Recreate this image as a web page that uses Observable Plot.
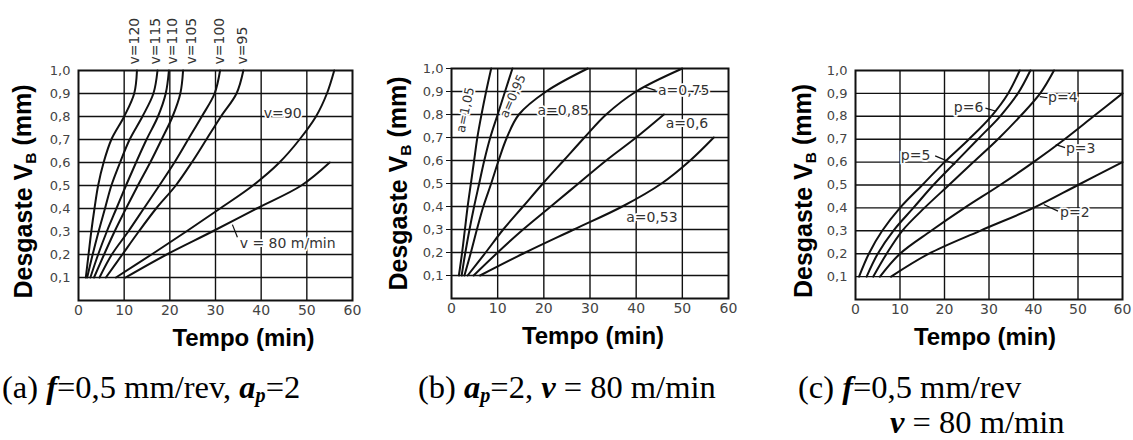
<!DOCTYPE html>
<html><head><meta charset="utf-8">
<script src="https://cdn.jsdelivr.net/npm/d3@7"></script>
<script src="https://cdn.jsdelivr.net/npm/@observablehq/plot@0.6"></script>
<style>
html,body{margin:0;padding:0;background:#fff;}
#wrap{position:relative;width:1133px;height:440px;overflow:hidden;background:#fff;}
.panel{position:absolute;top:0;}
.cap{position:absolute;font-family:"Liberation Serif","Times New Roman",serif;font-size:32.5px;color:#000;white-space:nowrap;line-height:1;}
.cap b{font-style:italic;}
.cap sub{font-size:0.62em;vertical-align:-0.22em;line-height:0;}
</style></head><body><div id="wrap"></div>
<script>
// ---------- shared axes ----------
const wearLevels = [0.1,0.2,0.3,0.4,0.5,0.6,0.7,0.8,0.9,1.0];
const timeTicks = [0,10,20,30,40,50,60];
const wearTicks = [0.1,0.2,0.3,0.4,0.5,0.6,0.7,0.8,0.9,1.0];
const timeGrid = [10,20,30,40,50];
const wearGrid = [0.1,0.2,0.3,0.4,0.5,0.6,0.7,0.8,0.9];
const xTitle = "Tempo (min)";
const yTitle = "Desgaste V_B (mm)";

// ---------- panel (a): cutting speed v (time in min at each wear level) ----------
const speedNames = ["v=120","v=115","v=110","v=105","v=100","v=95","v=90","v=80"];
const tV120 = [1.6,2.2,2.8,3.5,4.3,5.5,7.2,10.0,12.2,12.8];
const tV115 = [1.9,3.1,4.4,5.8,7.2,9.1,11.2,14.0,16.4,17.3];
const tV110 = [2.6,4.3,6.2,8.3,10.4,12.6,14.9,17.4,19.1,19.8];
const tV105 = [3.4,5.6,7.9,10.4,13.0,15.7,18.2,20.6,22.3,22.9];
const tV100 = [4.6,7.3,10.9,14.3,17.7,21.0,24.0,27.0,29.8,31.0];
const tV95  = [6.0,9.6,13.2,17.0,21.3,24.8,28.0,31.2,34.6,36.1];
const tV90  = [8.2,16.0,23.6,31.0,38.2,44.0,48.4,52.0,54.4,56.0];
const tV80  = [10.3,19.3,29.3,39.0,48.8,55.0];
const topLabelsA = ["v=120","v=115","v=110","v=105","v=100","v=95"];
const topLabelTimesA = [12.3,16.8,20.6,24.8,30.9,35.9];
const innerLabelsA = ["v=90","v = 80 m/min"];
const innerLabelTimesA = [44.7,45.8];
const innerLabelWearA = [0.812,0.246];
const leaderA = [[33.7,0.33,34.8,0.275]];

// ---------- panel (b): feed a ----------
const feedNames = ["a=1,05","a=0,95","a=0,85","a=0,75","a=0,6","a=0,53"];
const tA105 = [1.6,2.3,2.9,3.5,4.2,4.9,5.6,6.5,7.5,8.6];
const tA095 = [2.2,3.0,3.9,4.9,6.0,7.1,8.4,10.0,11.6,13.2];
const tA085 = [2.8,4.2,5.5,6.9,8.6,10.2,12.0,14.6,20.5,29.5];
const tA075 = [3.5,7.4,11.2,15.5,19.8,24.3,28.8,33.5,40.0,50.0];
const tA060 = [4.8,10.0,15.5,21.5,27.5,33.5,40.0,46.0];
const tA053 = [6.2,16.0,26.5,37.0,45.5,51.7,56.8];
const labelsB = ["a=1,05","a=0,95","a=0,85","a=0,75","a=0,6","a=0,53"];
const labelTimesB = [3.0,13.3,24.2,50.3,51.0,43.4];
const labelWearB = [0.82,0.88,0.817,0.903,0.76,0.35];
const labelRotB = [-78,-66,0,0,0,0];
const leaderB = [[41.8,0.92,44.2,0.905]];

// ---------- panel (c): depth p ----------
const depthNames = ["p=6","p=5","p=4","p=3","p=2"];
const tP6 = [0.8,3.0,6.0,10.0,15.0,20.0,25.5,30.5,34.3,36.9];
const tP5 = [2.5,5.0,8.5,13.0,17.5,22.5,27.5,32.5,36.5,39.3];
const tP4 = [4.0,7.0,10.5,15.5,21.0,26.5,32.0,37.0,41.5,44.6];
const tP3 = [5.5,10.0,17.0,24.5,32.5,40.0,47.0,53.5,60.0];
const tP2 = [8.0,16.5,28.0,40.0,50.0,60.0];
const labelsC = ["p=6","p=5","p=4","p=3","p=2"];
const labelTimesC = [25.4,13.5,46.6,50.6,49.3];
const labelWearC = [0.84,0.63,0.88,0.66,0.38];
const leaderC = [[29.2,0.836,31.6,0.822],[17.9,0.627,22.4,0.59],[41.4,0.886,43.2,0.881],[45.0,0.676,47.1,0.663],[42.3,0.415,45.5,0.386]];

// ---------- helpers ----------
function rows(names, times) {
  return names.flatMap((n, i) => times[i].map((t, j) => ({series: n, t, w: wearLevels[j]})));
}
const fmt = d => d.toFixed(1).replace(".", ",");
const INK = "#111";

function panel({rows: data, left, width, mLeft, mRight, mTop, mBottom, labels, leaders, yTitleDx, yTitleDy, xTitleDx, yTickSize}) {
  const H = 360;
  const chart = Plot.plot({
    width, height: H,
    marginLeft: mLeft, marginRight: mRight, marginTop: mTop, marginBottom: mBottom,
    style: {background: "transparent", overflow: "visible", fontFamily: "DejaVu Sans", color: "#444"},
    x: {domain: [0, 60]},
    y: {domain: [0, 1]},
    marks: [
      Plot.ruleX(timeGrid, {stroke: INK, strokeWidth: 1.4}),
      Plot.ruleY(wearGrid, {stroke: INK, strokeWidth: 1.4}),
      Plot.frame({stroke: INK, strokeWidth: 2}),
      Plot.axisX({ticks: timeTicks, tickSize: 0, tickPadding: 5, fontSize: 14, label: null}),
      Plot.axisY({ticks: wearTicks, tickFormat: fmt, tickSize: yTickSize, stroke: INK, tickPadding: yTickSize ? 3 : 8, fontSize: 13, label: null}),
      Plot.line(data, {x: "t", y: "w", z: "series", stroke: INK, strokeWidth: 2, curve: "catmull-rom"}),
      Plot.link(leaders, {x1: d => d[0], y1: d => d[1], x2: d => d[2], y2: d => d[3], stroke: INK, strokeWidth: 1.2}),
      ...labels,
      Plot.text([yTitle], {text: d => d, frameAnchor: "left", textAnchor: "middle", lineAnchor: "middle", rotate: -90, dx: yTitleDx, dy: yTitleDy,
        fontSize: 25, fontWeight: "bold", fontFamily: "Liberation Sans", fill: "#000"}),
      Plot.text([xTitle], {text: d => d, frameAnchor: "bottom", textAnchor: "middle", dx: xTitleDx, dy: 38, lineAnchor: "middle",
        fontSize: 24, fontWeight: "bold", fontFamily: "Liberation Sans", fill: "#000"})
    ]
  });
  // subscript B in the y title
  d3.select(chart).selectAll("text").filter(function() { return this.textContent === yTitle; })
    .each(function() {
      const t = d3.select(this);
      t.text(null);
      t.append("tspan").text("Desgaste V");
      t.append("tspan").attr("dy", "0.32em").attr("font-size", "0.62em").text("B");
      t.append("tspan").attr("dy", "-0.2em").text(" (mm)");
    });
  const div = document.createElement("div");
  div.className = "panel";
  div.style.left = left + "px";
  div.style.width = width + "px";
  div.appendChild(chart);
  document.getElementById("wrap").appendChild(div);
}

const labelStyle = {fontSize: 14, fill: "#333", stroke: "white", strokeWidth: 3.5, fontFamily: "DejaVu Sans"};

// panel (a)
panel({
  rows: rows(speedNames, [tV120, tV115, tV110, tV105, tV100, tV95, tV90, tV80]),
  left: 0, width: 380, mLeft: 78, mRight: 28, mTop: 70, mBottom: 60,
  yTitleDx: -55, yTitleDy: 6, xTitleDx: 28, yTickSize: 0,
  leaders: leaderA,
  labels: [
    Plot.text(topLabelsA, {x: (d, i) => topLabelTimesA[i], y: () => 1, text: d => d, rotate: -90, textAnchor: "start", dy: -6,
      fontSize: 14, fill: "#333", fontFamily: "DejaVu Sans"}),
    Plot.text(innerLabelsA, {x: (d, i) => innerLabelTimesA[i], y: (d, i) => innerLabelWearA[i], text: d => d, ...labelStyle})
  ]
});

// panel (b)
panel({
  rows: rows(feedNames, [tA105, tA095, tA085, tA075, tA060, tA053]),
  left: 380, width: 370, mLeft: 71, mRight: 22, mTop: 68, mBottom: 62,
  yTitleDx: -53, yTitleDy: 0, xTitleDx: 3, yTickSize: 5,
  leaders: leaderB,
  labels: [
    Plot.text(labelsB, {x: (d, i) => labelTimesB[i], y: (d, i) => labelWearB[i], text: d => d, rotate: (d, i) => labelRotB[i],
      ...labelStyle, fontSize: (d, i) => (labelRotB[i] ? 12.5 : 14)})
  ]
});

// panel (c)
panel({
  rows: rows(depthNames, [tP6, tP5, tP4, tP3, tP2]),
  left: 750, width: 383, mLeft: 105, mRight: 11, mTop: 70, mBottom: 61,
  yTitleDx: -52, yTitleDy: 6, xTitleDx: -4, yTickSize: 0,
  leaders: leaderC,
  labels: [
    Plot.text(labelsC, {x: (d, i) => labelTimesC[i], y: (d, i) => labelWearC[i], text: d => d, ...labelStyle})
  ]
});

// captions
const captions = [
  {left: 2, top: 371, html: "(a) <b>f</b>=0,5 mm/rev, <b>a<sub>p</sub></b>=2"},
  {left: 418, top: 371, html: "(b) <b>a<sub>p</sub></b>=2, <b>v</b> = 80 m/min"},
  {left: 798, top: 371, html: "(c) <b>f</b>=0,5 mm/rev"},
  {left: 890, top: 406, html: "<b>v</b> = 80 m/min"}
];
for (const c of captions) {
  const d = document.createElement("div");
  d.className = "cap";
  d.style.left = c.left + "px";
  d.style.top = c.top + "px";
  d.innerHTML = c.html;
  document.getElementById("wrap").appendChild(d);
}
</script></body></html>
